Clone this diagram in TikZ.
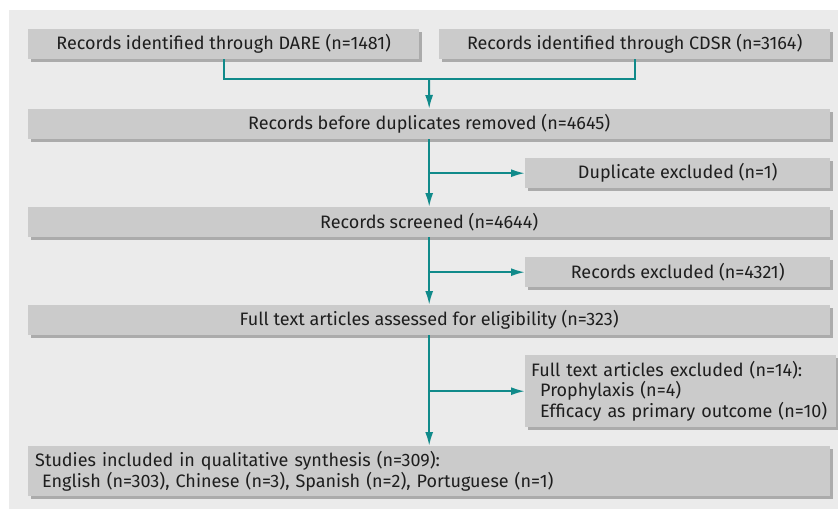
\documentclass[tikz,border=0pt]{standalone}
\usepackage{fontspec}
\setmainfont{Fira Sans}
\usetikzlibrary{arrows.meta,shadows}
\definecolor{bgc}{HTML}{EBEBEB}
\definecolor{boxc}{HTML}{CBCBCB}
\definecolor{shc}{HTML}{ABABAB}
\definecolor{txtc}{HTML}{1E1E1E}
\definecolor{arrc}{RGB}{16,138,138}
\begin{document}
\begin{tikzpicture}[x=1pt,y=-1pt,
  box/.style={fill=boxc, draw=none, anchor=north west, inner sep=0pt,
    font=\fontsize{18}{20.5}\selectfont, text=txtc,
    drop shadow={shadow xshift=3pt,shadow yshift=-3pt,fill=shc,opacity=1}},
  conn/.style={draw=arrc, line width=2pt},
  arr/.style={conn, -{Latex[length=14pt,width=8pt]}}]
\useasboundingbox (0,0) rectangle (838,509);
\fill[bgc] (9,10) rectangle (838,509);

\node[box, minimum width=391pt, minimum height=30pt] (dare) at (28,29) {Records identified through DARE (n=1481)};
\node[box, minimum width=391pt, minimum height=30pt] (cdsr) at (439,29) {Records identified through CDSR (n=3164)};
\node[box, minimum width=802pt, minimum height=30pt] (rec) at (28,109) {Records before duplicates removed (n=4645)};
\node[box, minimum width=305pt, minimum height=30pt] (dup) at (525,158) {Duplicate excluded (n=1)};
\node[box, minimum width=802pt, minimum height=30pt] (scr) at (28,207) {Records screened (n=4644)};
\node[box, minimum width=305pt, minimum height=30pt] (excl) at (525,257) {Records excluded (n=4321)};
\node[box, minimum width=802pt, minimum height=30pt] (full) at (28,305) {Full text articles assessed for eligibility (n=323)};
\node[box, minimum width=305pt, minimum height=72pt, align=left, text width=299pt, inner xsep=6pt] (ftex) at (525,355)
  {Full text articles excluded (n=14):\\\hspace*{9pt}Prophylaxis (n=4)\\\hspace*{9pt}Efficacy as primary outcome (n=10)};
\node[box, minimum width=802pt, minimum height=50pt, align=left, text width=788pt, inner xsep=7pt] (stud) at (28,446)
  {Studies included in qualitative synthesis (n=309):\\\hspace*{7pt}English (n=303), Chinese (n=3), Spanish (n=2), Portuguese (n=1)};

\coordinate (j1) at (429,79);
\draw[conn] (dare.south) |- (j1) -| (cdsr.south);
\draw[arr] (j1) -- (rec.north);
\draw[arr] (rec.south) -- (scr.north);
\draw[arr] (rec.south |- dup.west) -- (dup.west);
\draw[arr] (scr.south) -- (full.north);
\draw[arr] (scr.south |- excl.west) -- (excl.west);
\draw[arr] (full.south) -- (stud.north);
\draw[arr] (full.south |- ftex.west) -- (ftex.west);
\end{tikzpicture}
\end{document}
